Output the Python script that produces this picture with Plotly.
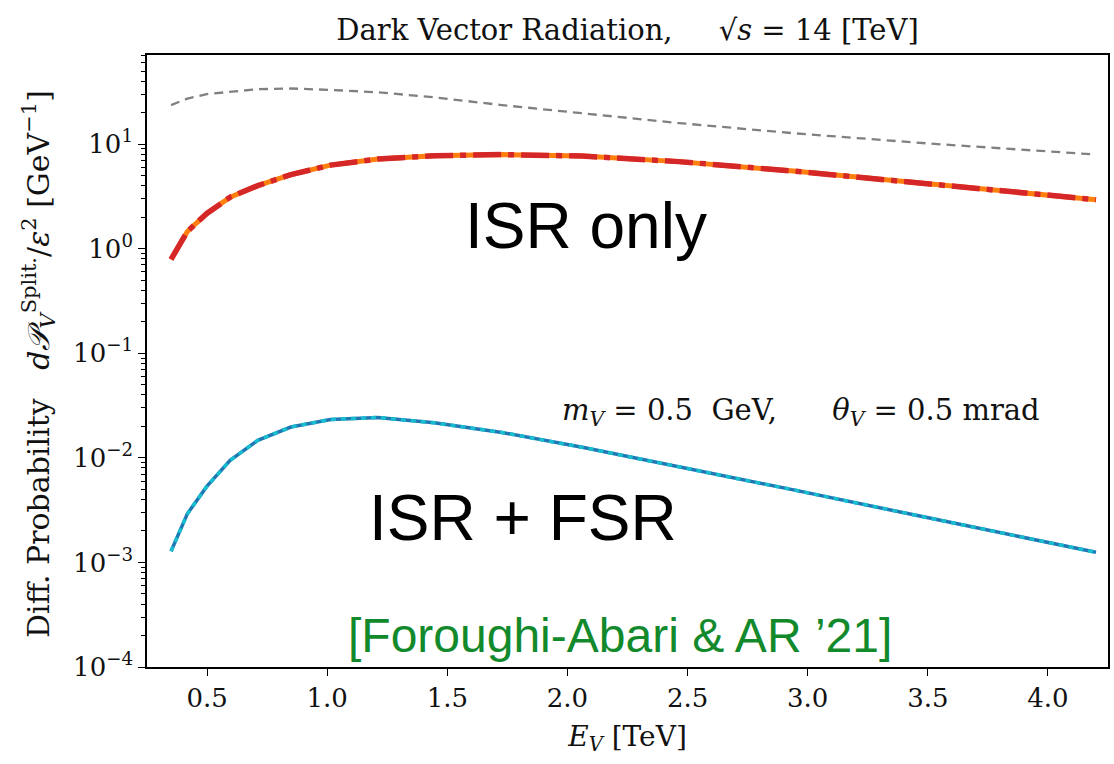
import plotly.graph_objects as go

# ---- data ----
E_V = [0.35, 0.418, 0.499, 0.596, 0.711, 0.849, 1.014, 1.211, 1.446, 1.727, 2.062, 2.463, 2.941, 3.512, 4.2]
isr_only = [0.79, 1.46, 2.17, 3.11, 4.01, 5.10, 6.30, 7.20, 7.73, 7.94, 7.68, 6.80, 5.52, 4.14, 2.94]
isr_fsr = [0.00128, 0.00292, 0.00533, 0.00946, 0.0147, 0.0197, 0.0233, 0.0243, 0.0216, 0.0175,
           0.0126, 0.00829, 0.00494, 0.00264, 0.00125]
upper_ref = [23.6, 27.2, 30.1, 31.8, 33.5, 34.0, 33.0, 31.3, 28.0, 23.6, 19.8, 15.9, 12.7, 10.1, 7.94]

x_ticks = [0.5, 1.0, 1.5, 2.0, 2.5, 3.0, 3.5, 4.0]
x_ticktext = ["0.5", "1.0", "1.5", "2.0", "2.5", "3.0", "3.5", "4.0"]
y_tickvals = [1e-4, 1e-3, 1e-2, 1e-1, 1e0, 1e1]
y_ticktext = ["10<sup>−4</sup>", "10<sup>−3</sup>", "10<sup>−2</sup>", "10<sup>−1</sup>",
              "10<sup>0</sup>", "10<sup>1</sup>"]

SERIF = "DejaVu Serif, Liberation Serif, serif"
SANS = "Liberation Sans, Arial, sans-serif"
NB = "\u00a0"

fig = go.Figure()

# grey dashed reference
fig.add_trace(go.Scatter(x=E_V, y=upper_ref, mode="lines",
                         line=dict(color="#808080", width=2.3, dash="9px,6px"),
                         showlegend=False, hoverinfo="skip"))
# ISR only: orange solid under red dash-dot
fig.add_trace(go.Scatter(x=E_V, y=isr_only, mode="lines",
                         line=dict(color="#ff7f0e", width=5),
                         showlegend=False, hoverinfo="skip"))
fig.add_trace(go.Scatter(x=E_V, y=isr_only, mode="lines",
                         line=dict(color="#d62728", width=5.5, dash="28px,7px,6px,7px"),
                         showlegend=False, hoverinfo="skip"))
# ISR + FSR: blue solid under cyan dashes
fig.add_trace(go.Scatter(x=E_V, y=isr_fsr, mode="lines",
                         line=dict(color="#1f77b4", width=3.5),
                         showlegend=False, hoverinfo="skip"))
fig.add_trace(go.Scatter(x=E_V, y=isr_fsr, mode="lines",
                         line=dict(color="#17becf", width=3.5, dash="5px,5px"),
                         showlegend=False, hoverinfo="skip"))

minor_vals = [m * 10 ** d for d in range(-4, 2) for m in range(2, 10)]

fig.update_layout(
    width=1114, height=764,
    margin=dict(l=147, r=4, t=55, b=97),
    paper_bgcolor="white", plot_bgcolor="white",
    title=dict(text="Dark Vector Radiation," + NB * 4 + " √<i>s</i> = 14 [TeV]",
               xref="paper", x=0.5, xanchor="center", y=0.961, yanchor="middle",
               font=dict(family=SERIF, size=29, color="#111")),
    xaxis=dict(range=[0.25, 4.25], tickvals=x_ticks, ticktext=x_ticktext,
               ticks="outside", ticklen=7, tickwidth=1.3, tickcolor="black",
               showline=True, linecolor="black", linewidth=1.6, mirror=True,
               showgrid=False, zeroline=False,
               tickfont=dict(family=SERIF, size=26, color="#111"),
               title=dict(text="<i>E<sub>V</sub></i> [TeV]", standoff=14,
                          font=dict(family=SERIF, size=28, color="#111"))),
    yaxis=dict(type="log", range=[-4, 1.852], tickvals=y_tickvals, ticktext=y_ticktext,
               ticks="outside", ticklen=7, tickwidth=1.3, tickcolor="black",
               minor=dict(tickvals=minor_vals, ticks="outside", ticklen=4, tickwidth=1,
                          tickcolor="black", showgrid=False),
               showline=True, linecolor="black", linewidth=1.6, mirror=True,
               showgrid=False, zeroline=False,
               tickfont=dict(family=SERIF, size=26, color="#111")),
)

fig.add_annotation(xref="paper", yref="paper", x=0, y=0.5, xshift=-109, yshift=-3,
                   text="Diff. Probability" + NB * 3 + "<i>d𝒫</i><sub><i>V</i></sub><sup>Split.</sup>/<i>ε</i><sup>2</sup> [GeV<sup>−1</sup>]",
                   textangle=-90, showarrow=False, xanchor="center", yanchor="middle",
                   font=dict(family=SERIF, size=30, color="#111"))

fig.add_annotation(x=2.077, y=0.215, xref="x", yref="y", text="ISR only", showarrow=False,
                   font=dict(family=SANS, size=64, color="black"))
fig.add_annotation(x=1.813, y=-2.579, xref="x", yref="y", text="ISR + FSR", showarrow=False,
                   font=dict(family=SANS, size=64, color="black"))
fig.add_annotation(x=2.974, y=-1.565, xref="x", yref="y",
                   text="<i>m<sub>V</sub></i> = 0.5" + NB * 2 + "GeV," + NB * 6 + "<i>θ<sub>V</sub></i> = 0.5" + NB + "mrad",
                   showarrow=False, font=dict(family=SERIF, size=29, color="#111"))
fig.add_annotation(x=2.218, y=-3.70, xref="x", yref="y", text="[Foroughi-Abari & AR ’21]",
                   showarrow=False, font=dict(family=SANS, size=48, color="#128a2c"))

fig.write_html("out.html")
